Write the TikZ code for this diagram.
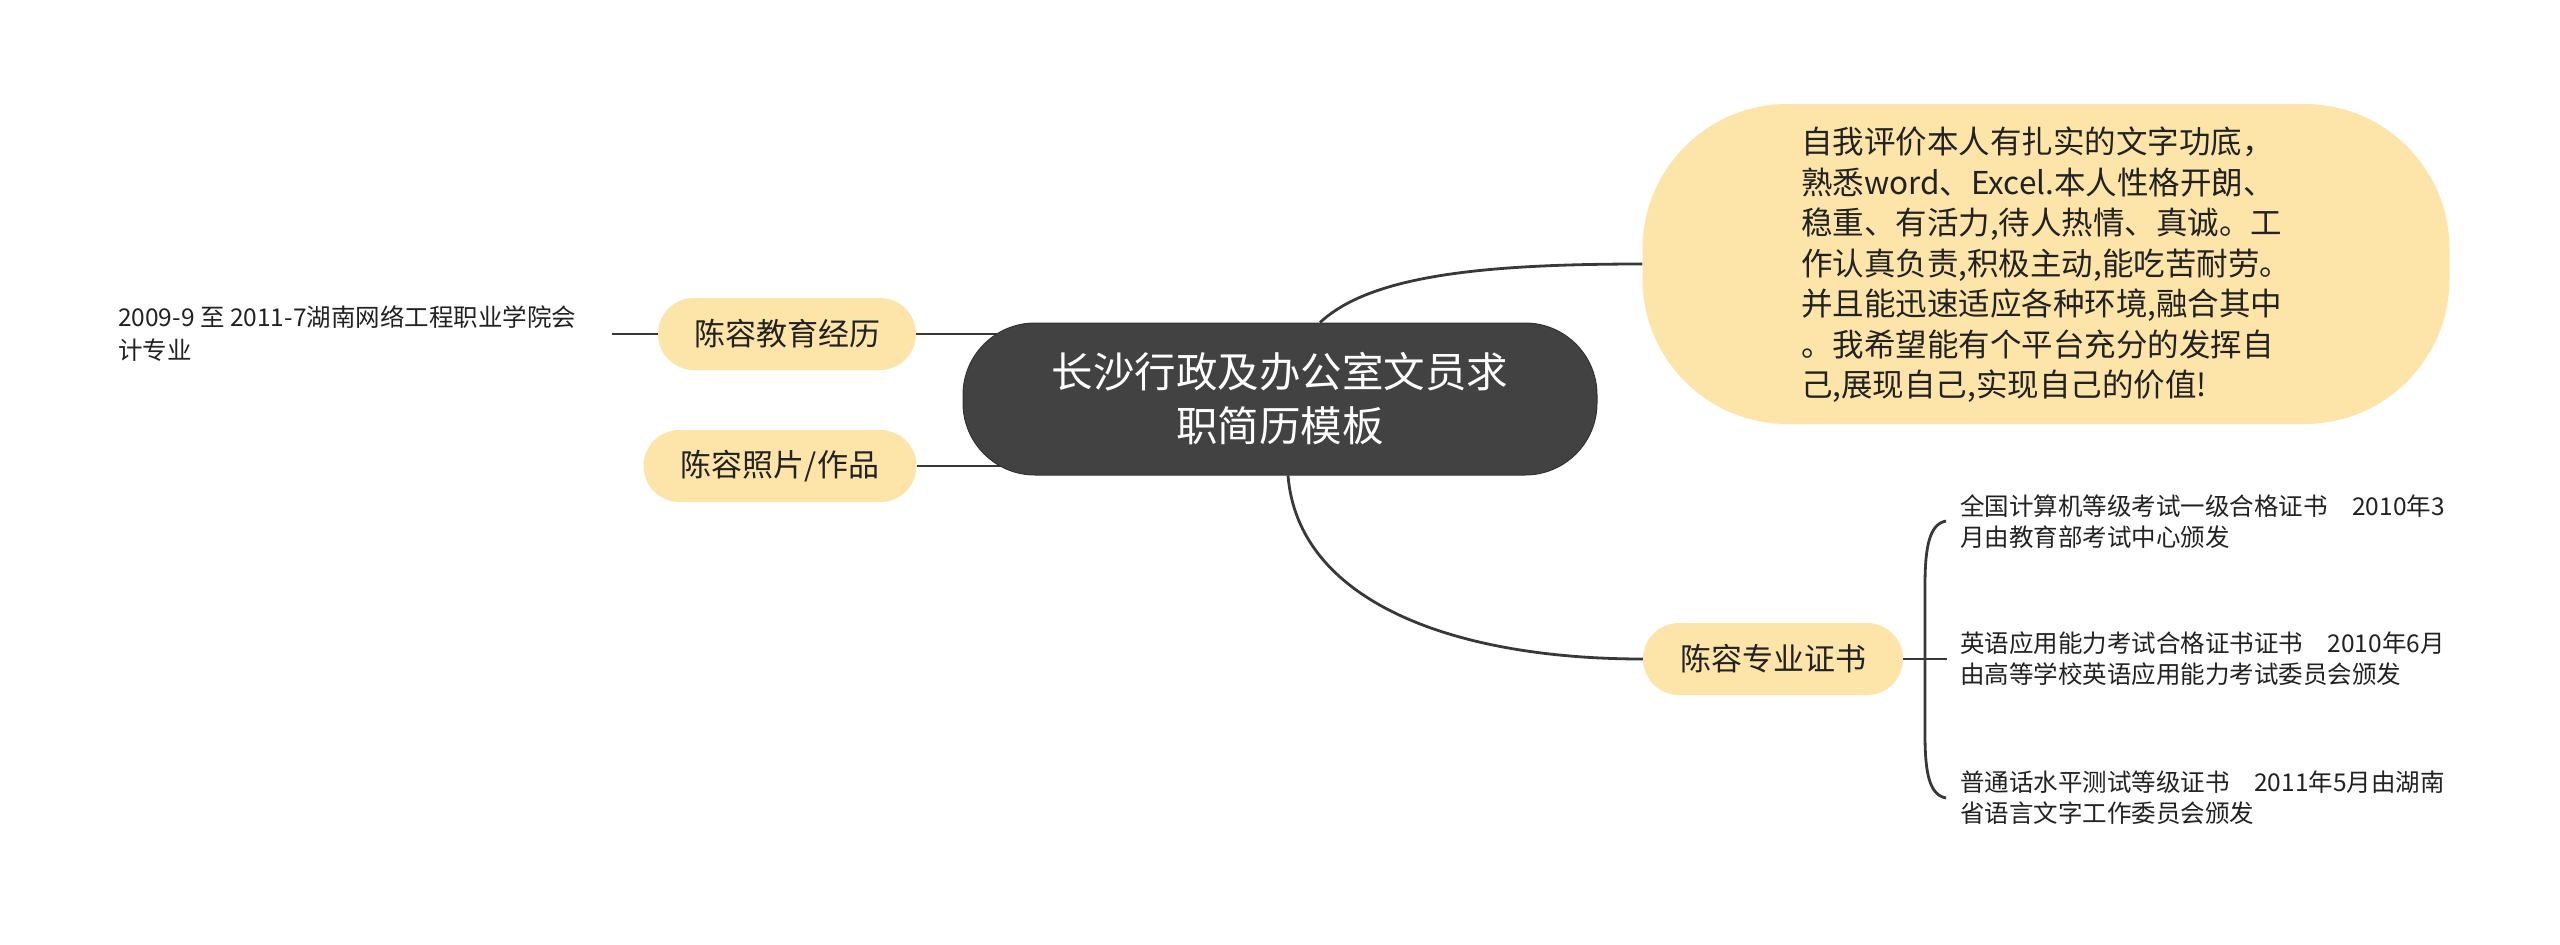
\documentclass[tikz,border=0pt]{standalone}
\usepackage{fontspec}
\newfontfamily\cjk{Noto Sans CJK SC}
\usetikzlibrary{backgrounds}
\definecolor{nodeyellow}{HTML}{FDE5AA}
\definecolor{centergray}{HTML}{424242}
\definecolor{linegray}{HTML}{383838}
\definecolor{textdark}{HTML}{222222}
\begin{document}
\begin{tikzpicture}[x=1pt,y=-1pt,
  topic/.style={fill=nodeyellow, rounded corners=36, minimum height=72, inner sep=0pt,
    text=textdark, font=\cjk\fontsize{31}{40}\selectfont},
  rootnode/.style={fill=centergray, draw=black!80, line width=1pt, rounded corners=72,
    minimum width=634, minimum height=152, inner sep=0pt, text=white, align=center,
    font=\cjk\fontsize{41.5}{54}\selectfont},
  bignote/.style={fill=nodeyellow, rounded corners=145, minimum width=807, minimum height=320,
    inner sep=0pt, text=textdark, align=left, font=\cjk\fontsize{31.5}{40.5}\selectfont},
  leaf/.style={inner sep=0pt, text=textdark, align=left, anchor=west,
    font=\cjk\fontsize{24.5}{31}\selectfont},
  conn/.style={draw=linegray, line width=2.8pt}
]
\useasboundingbox (0,0) rectangle (2560,945);

\node[rootnode] (center) at (1280,399) {长沙行政及办公室文员求\\职简历模板};
\node[bignote] (self) at (2046,264) {};
\node[align=left, inner sep=0pt, text=textdark, font=\cjk\fontsize{31.5}{40.5}\selectfont] (selftext) at (2046,265) {自我评价本人有扎实的文字功底，\\熟悉word、Excel.本人性格开朗、\\稳重、有活力,待人热情、真诚。工\\作认真负责,积极主动,能吃苦耐劳。\\并且能迅速适应各种环境,融合其中\\。我希望能有个平台充分的发挥自\\己,展现自己,实现自己的价值!};
\node[topic, minimum width=258] (edu) at (787,334) {陈容教育经历};
\node[topic, minimum width=273] (photo) at (780,466) {陈容照片/作品};
\node[topic, minimum width=260] (cert) at (1773,659) {陈容专业证书};

\node[leaf, font=\cjk\fontsize{24.5}{33}\selectfont] (edutext) at (118,334) {2009-9 至 2011-7湖南网络工程职业学院会\\计专业};
\coordinate (eduend) at (612,334);

\coordinate (brtop) at (1946,521);
\coordinate (brmid) at (1947,659);
\coordinate (brbot) at (1946,798);
\node[leaf] (c1) at (1960,522) {全国计算机等级考试一级合格证书\quad 2010年3\\月由教育部考试中心颁发};
\node[leaf] (c2) at (1960,659) {英语应用能力考试合格证书证书\quad 2010年6月\\由高等学校英语应用能力考试委员会颁发};
\node[leaf] (c3) at (1960,798) {普通话水平测试等级证书\quad 2011年5月由湖南\\省语言文字工作委员会颁发};

\begin{scope}[on background layer]
\fill[white] (0,0) rectangle (2560,945);
\draw[conn] (edu.east) -- (edu.east -| center.center);
\draw[conn] (photo.east) -- (photo.east -| center.center);
\draw[conn] (eduend) -- (edu.west);
\draw[conn] ([xshift=40]center.north) .. controls (1370,276) and (1480,264) .. (self.west);
\draw[conn] ([xshift=8]center.south) .. controls (1298,600) and (1450,659) .. (cert.west);
\draw[conn] (cert.east) -- (brmid);
\draw[conn] (brtop) .. controls (1930,524) and (1925,545) .. (1925,585) -- (1925,735)
  .. controls (1925,775) and (1930,795) .. (brbot);
\end{scope}
\end{tikzpicture}
\end{document}
